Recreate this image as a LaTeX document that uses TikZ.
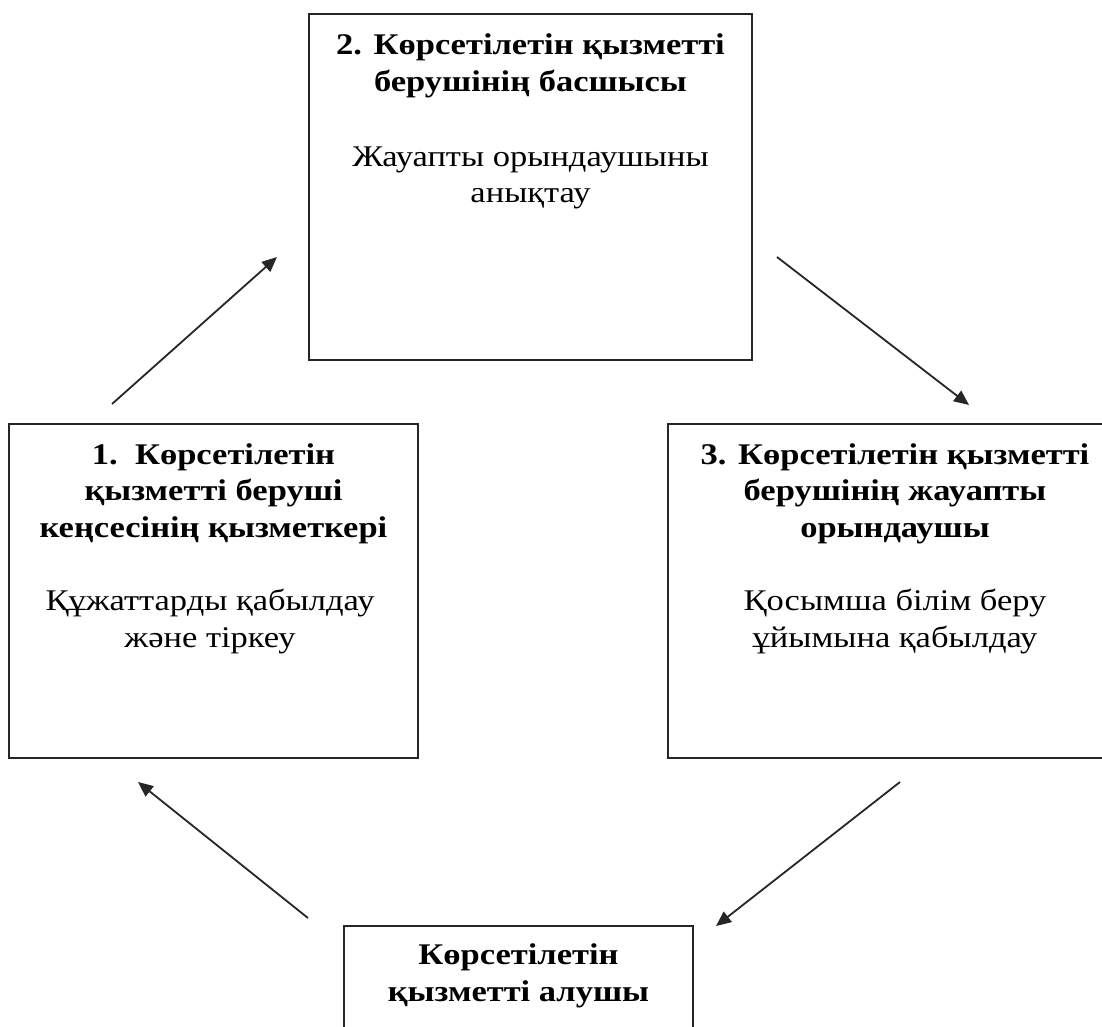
\documentclass[tikz,border=0pt]{standalone}
\usepackage{fontspec}
\setmainfont{Liberation Serif}[FakeStretch=1.15]
\usetikzlibrary{arrows.meta}

\tikzset{
  stagebox/.style={draw=black!85, line width=1.8pt, rectangle, inner sep=0pt},
  heading/.style={font=\fontsize{30pt}{36.5pt}\selectfont\bfseries, align=center, inner sep=0pt, anchor=base},
  bodytext/.style={font=\fontsize{30pt}{36.5pt}\selectfont, align=center, inner sep=0pt, anchor=base},
  flow/.style={draw=black!85, line width=1.8pt, -{Triangle[length=15pt,width=13pt]}}
}

\begin{document}
\begin{tikzpicture}[x=1pt,y=-1pt]
  \useasboundingbox (0,0) rectangle (1102,1026);
  \fill[white] (0,0) rectangle (1102,1026);
  \clip (0,0) rectangle (1102,1026);

  % stage boxes
  \node[stagebox, minimum width=409pt, minimum height=334pt] (b1) at (213.5,591) {};
  \node[stagebox, minimum width=443pt, minimum height=346pt] (b2) at (530.5,187) {};
  \node[stagebox, minimum width=454pt, minimum height=334pt] (b3) at (895,591) {};
  \node[stagebox, minimum width=349pt, minimum height=154pt] (b4) at (518.5,1003) {};

  % texts are placed by the baseline of their last line
  \node[heading] (t2) at (530.5,91) {2. Көрсетілетін қызметті\\берушінің басшысы};
  \node[bodytext] (d2) at (530.5,202.5) {Жауапты орындаушыны\\анықтау};

  \node[heading] (t1) at (213.5,537) {1.\ \ Көрсетілетін\\қызметті беруші\\кеңсесінің қызметкері};
  \node[bodytext] (d1) at (210,647) {Құжаттарды қабылдау\\және тіркеу};

  \node[heading] (t3) at (895,537) {3. Көрсетілетін қызметті\\берушінің жауапты\\орындаушы};
  \node[bodytext] (d3) at (895,647) {Қосымша білім беру\\ұйымына қабылдау};

  \node[heading] (t4) at (518.5,1001) {Көрсетілетін\\қызметті алушы};

  % arrow end points
  \coordinate (a1s) at (112,404);
  \coordinate (a1e) at (277,257);
  \coordinate (a2s) at (777,257);
  \coordinate (a2e) at (969,405);
  \coordinate (a3s) at (900,782);
  \coordinate (a3e) at (716,926);
  \coordinate (a4s) at (308,918);
  \coordinate (a4e) at (138,782);

  \draw[flow] (a1s) -- (a1e);
  \draw[flow] (a2s) -- (a2e);
  \draw[flow] (a3s) -- (a3e);
  \draw[flow] (a4s) -- (a4e);
\end{tikzpicture}
\end{document}
